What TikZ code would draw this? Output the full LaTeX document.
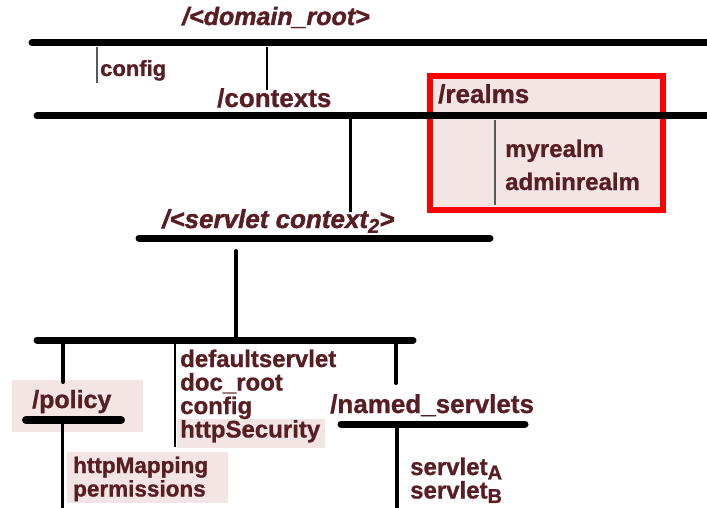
\documentclass[tikz,border=0pt]{standalone}
\usepackage{fontspec}
\setmainfont{Liberation Sans}[BoldFeatures={FakeBold=1},BoldItalicFeatures={FakeBold=1.5}]
\usetikzlibrary{positioning}
\definecolor{lblcol}{RGB}{88,30,36}
\definecolor{pinkbg}{RGB}{243,229,228}

\tikzset{
  bar/.style={line width=7pt,line cap=round},
  stem/.style={line width=#1},
  stem/.default=3pt,
  thinstem/.style={line width=1.5pt,black!65},
  lbl/.style={inner sep=0pt,anchor=base west,text=lblcol,font=\fontsize{#1}{#1}\selectfont\bfseries},
  lbl/.default=24,
  ilbl/.style={lbl=#1,font=\fontsize{#1}{#1}\selectfont\bfseries\itshape}
}
\newcommand{\subtxt}[1]{\raisebox{-0.35ex}{\fontsize{20}{20}\selectfont #1}}

\begin{document}
\begin{tikzpicture}[x=1pt,y=-1pt]
      \clip (0,0) rectangle (707,508);
      \fill[white] (0,0) rectangle (707,508);
      % shaded areas
      \draw[red,line width=6pt,fill=pinkbg] (430,76) rectangle (663,210);
      \fill[pinkbg] (12,380) rectangle (143,432);
      \fill[pinkbg] (67,452) rectangle (228,503);
      \fill[pinkbg] (177,419) rectangle (325,448);
      % labels
      \node[ilbl=25] (root) at (182,25) {/<domain\_root>};
      \node[lbl=22] (cfgtop) at (100,76) {config};
      \node[lbl=26] (contexts) at (217,107) {/contexts};
      \node[lbl=26] (realms) at (438,103) {/realms};
      \node[lbl] (myrealm) at (505,157) {myrealm};
      \node[lbl,below=33pt of myrealm.base west,anchor=base west] (adminrealm) {adminrealm};
      \node[ilbl=26] (srvctx) at (162,228) {/<servlet context\subtxt{2}>};
      \node[lbl] (defsrv) at (180,367) {defaultservlet};
      \node[lbl,below=23.5pt of defsrv.base west,anchor=base west] (docroot) {doc\_root};
      \node[lbl,below=23.5pt of docroot.base west,anchor=base west] (cfgctx) {config};
      \node[lbl,below=23.5pt of cfgctx.base west,anchor=base west] (httpsec) {httpSecurity};
      \node[lbl=25] (policy) at (32,408) {/policy};
      \node[lbl=22.5] (httpmap) at (73,473) {httpMapping};
      \node[lbl=22.5,below=23.5pt of httpmap.base west,anchor=base west] (perms) {permissions};
      \node[lbl=26] (named) at (330,413) {/named\_servlets};
      \node[lbl] (srvA) at (410,475) {servlet\subtxt{A}};
      \node[lbl,below=23.5pt of srvA.base west,anchor=base west] (srvB) {servlet\subtxt{B}};
      % bars
      \coordinate (b1w) at (32,43);   \coordinate (b1e) at (715,43);
      \coordinate (b2w) at (37,116);  \coordinate (b2e) at (715,116);
      \coordinate (b3w) at (139,238); \coordinate (b3e) at (490,238);
      \coordinate (b4w) at (37,340);  \coordinate (b4e) at (413,340);
      \coordinate (pbw) at (26,420);  \coordinate (pbe) at (121,420);
      \coordinate (nbw) at (341,424); \coordinate (nbe) at (525,424);
      \draw[bar] (b1w) -- (b1e);
      \draw[bar] (b2w) -- (b2e);
      \draw[bar] (b3w) -- (b3e);
      \draw[bar] (b4w) -- (b4e);
      \draw[bar,line width=8pt] (pbw) -- (pbe);
      \draw[bar] (nbw) -- (nbe);
      % stems
      \coordinate (s1) at (97,47);   \coordinate (s1b) at (97,83);
      \coordinate (s2) at (267,47);  \coordinate (s2b) at (267,90);
      \coordinate (s3) at (495,120); \coordinate (s3b) at (495,205);
      \coordinate (s4) at (350,118); \coordinate (s4b) at (350,212);
      \coordinate (s5) at (236,251); \coordinate (s5b) at (236,340);
      \coordinate (s6) at (63,340);  \coordinate (s6b) at (63,382);
      \coordinate (s7) at (175,340); \coordinate (s7b) at (175,447);
      \coordinate (s8) at (396,340); \coordinate (s8b) at (396,383);
      \coordinate (s9) at (62,420);  \coordinate (s9b) at (62,510);
      \coordinate (s10) at (397,424); \coordinate (s10b) at (397,510);
      \draw[thinstem] (s1) -- (s1b);
      \draw[stem=2pt] (s2) -- (s2b);
      \draw[thinstem,line width=2pt] (s3) -- (s3b);
      \draw[stem] (s4) -- (s4b);
      \draw[stem=4pt,line cap=round] (s5) -- (s5b);
      \draw[stem=4pt,line cap=round] (s6) -- (s6b);
      \draw[stem=2pt] (s7) -- (s7b);
      \draw[stem=4pt,line cap=round] (s8) -- (s8b);
      \draw[stem] (s9) -- (s9b);
      \draw[stem=4pt] (s10) -- (s10b);
\end{tikzpicture}
\end{document}
